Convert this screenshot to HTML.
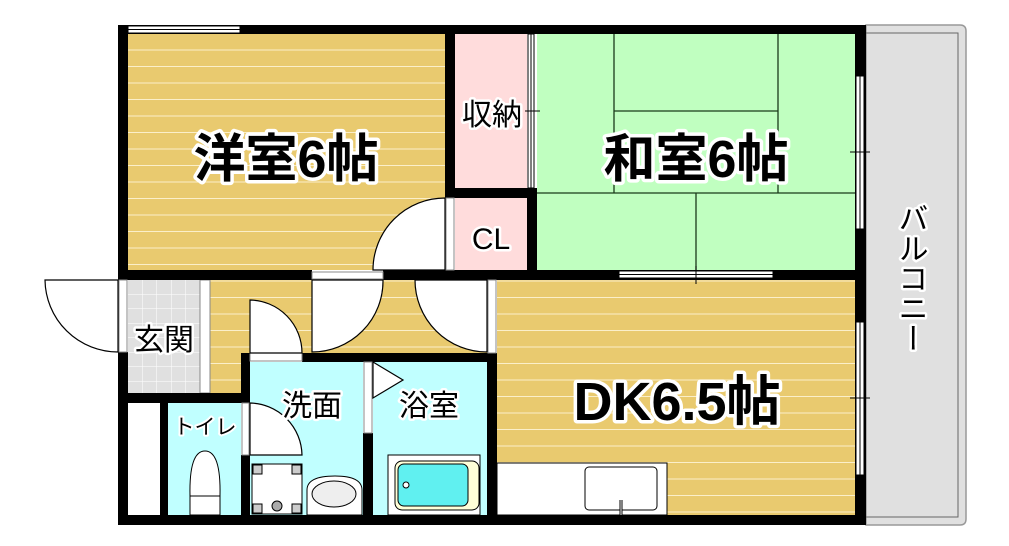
<!DOCTYPE html>
<html><head><meta charset="utf-8"><style>
html,body{margin:0;padding:0;background:#fff;}
svg{display:block;}
.t{font-family:"Liberation Sans","Noto Sans CJK JP",sans-serif;fill:#000;paint-order:stroke;stroke:#fff;stroke-linejoin:round;}
</style></head><body>
<svg width="1009" height="546" viewBox="0 0 1009 546" xmlns="http://www.w3.org/2000/svg">
<defs>
<pattern id="wood" width="20" height="16.5" patternUnits="userSpaceOnUse" y="34">
<rect width="20" height="16.5" fill="#e9ca6f"/>
<rect y="15.5" width="20" height="1.2" fill="#fbefc9"/>
</pattern>
<pattern id="tile" width="14.5" height="14.5" patternUnits="userSpaceOnUse" x="128" y="280">
<rect width="14.5" height="14.5" fill="#e0e0e0"/>
<path d="M14.5 0V14.5M0 14.5H14.5" stroke="#fff" stroke-width="1"/>
</pattern>
</defs>
<path d="M866 25H960Q966 25 966 31V519Q966 525 960 525H866Z" fill="#e0e0e0" stroke="#999" stroke-width="1.5"/>
<path d="M866 33H958V517H866" fill="none" stroke="#666" stroke-width="1"/>
<rect x="128" y="34" width="317" height="236" fill="url(#wood)"/>
<rect x="455" y="34" width="72" height="154" fill="#ffdcdc"/>
<rect x="455" y="198" width="72" height="72" fill="#ffdcdc"/>
<rect x="537" y="34" width="318" height="236" fill="#c0ffc0"/>
<g stroke="#1a3a1a" stroke-width="1.3" fill="none">
<path d="M614 34V193M778 34V193M614 111H778M537 193H855M696 193V270"/>
</g>
<rect x="210" y="280" width="277" height="73" fill="url(#wood)"/>
<rect x="210" y="353" width="31" height="40" fill="url(#wood)"/>
<rect x="128" y="280" width="72" height="113" fill="url(#tile)"/>
<rect x="200" y="280" width="10" height="113" fill="#fff" stroke="#888" stroke-width="1"/>
<rect x="497" y="280" width="358" height="235" fill="url(#wood)"/>
<rect x="168" y="403" width="73" height="112" fill="#c0ffff"/>
<rect x="250" y="362" width="113" height="153" fill="#c0ffff"/>
<rect x="373" y="362" width="114" height="153" fill="#c0ffff"/>
<rect x="128" y="403" width="32" height="112" fill="#fff"/>
<g fill="#000">
<rect x="118" y="25" width="748" height="9"/>
<rect x="118" y="25" width="10" height="255"/>
<rect x="445" y="34" width="10" height="164"/>
<rect x="455" y="188" width="82" height="10"/>
<rect x="527" y="188" width="10" height="92"/>
<rect x="855" y="25" width="11" height="500"/>
<rect x="118" y="270" width="194" height="10"/>
<rect x="383" y="270" width="483" height="10"/>
<rect x="118" y="352" width="10" height="173"/>
<rect x="118" y="393" width="132" height="10"/>
<rect x="160" y="403" width="8" height="112"/>
<rect x="241" y="353" width="9" height="50"/>
<rect x="241" y="455" width="9" height="60"/>
<rect x="302" y="353" width="195" height="9"/>
<rect x="241" y="353" width="9" height="9"/>
<rect x="363" y="433" width="10" height="82"/>
<rect x="487" y="353" width="10" height="172"/>
<rect x="118" y="515" width="748" height="10"/>
</g>
<g fill="#fff" stroke="#000" stroke-width="1">
<rect x="128" y="26" width="112" height="7"/>
<path d="M128 29.5H240"/>
<rect x="619" y="271" width="154" height="7"/>
<path d="M619 274.5H773M696 266V284"/>
<rect x="856" y="76" width="8" height="153"/>
<path d="M860 76V229M850 152H870"/>
<rect x="856" y="322" width="8" height="153"/>
<path d="M860 322V475M850 398H870"/>
<rect x="528" y="34" width="6" height="154"/>
<path d="M531 34V188M525 111H540"/>
<rect x="446" y="198" width="8" height="72" stroke="#888"/>
<rect x="312" y="272" width="71" height="7" stroke="#888"/>
<rect x="250" y="353" width="52" height="8" stroke="#888"/>
<rect x="242" y="403" width="7" height="52" stroke="#888"/>
<rect x="364" y="362" width="8" height="71" stroke="#888"/>
<rect x="488" y="280" width="8" height="73" stroke="#888"/>
<rect x="119" y="280" width="8" height="72" stroke="#888"/>
</g>
<g fill="#fff" stroke="#000" stroke-width="1.2">
<path d="M445 198V270H373A72 72 0 0 1 445 198Z"/>
<path d="M312 280H383A71 71 0 0 1 312 352Z"/>
<path d="M487 280V352A72 72 0 0 1 415 280Z"/>
<path d="M118 280H45A73 73 0 0 0 118 352Z"/>
<path d="M250 300A53 53 0 0 1 302 353H250Z"/>
<path d="M250 403A53 53 0 0 1 302 455H250Z"/>
<path d="M373 362L403 380L373 398Z"/>
</g>
<g stroke="#000" stroke-width="1">
<rect x="497" y="463" width="170" height="52" fill="#fff"/>
<rect x="585" y="467" width="72" height="43" rx="4" fill="#fff"/>
<path d="M621 500V515" stroke-width="3"/>
<path d="M621 500V515" stroke="#fff" stroke-width="1"/>
<rect x="388" y="455" width="92" height="60" fill="#fff"/>
<rect x="395" y="461" width="84" height="49" rx="7" fill="#ffffd8"/>
<rect x="398" y="464" width="70" height="42" rx="6" fill="#60f0f0"/>
<circle cx="406" cy="485" r="3" fill="#fff"/>
<rect x="252" y="464" width="50" height="50" fill="#fff"/>
<g fill="#ccc"><rect x="253" y="465" width="9" height="9"/><rect x="292" y="465" width="9" height="9"/><rect x="253" y="504" width="9" height="9"/><rect x="292" y="504" width="9" height="9"/></g>
<circle cx="277" cy="506" r="5" fill="#aaa"/>
<path d="M307 515V490Q307 476 335 476Q362 476 362 490V515Z" fill="#fff"/>
<ellipse cx="334" cy="494" rx="22" ry="13" fill="#eee"/>
<path d="M190 496Q189 451 205 451Q221 451 220 496Z" fill="#fff"/>
<rect x="190" y="496" width="30" height="19" fill="#fff"/>
</g>
<g class="t" font-weight="bold">
<text x="286" y="177" font-size="52" stroke-width="7" text-anchor="middle">洋室6帖</text>
<text x="696" y="177" font-size="52" stroke-width="7" text-anchor="middle">和室6帖</text>
<text x="677" y="420" font-size="54" stroke-width="7" text-anchor="middle">DK6.5帖</text>
</g>
<g class="t">
<text x="492" y="125" font-size="30" stroke-width="5" text-anchor="middle">収納</text>
<text x="491" y="249" font-size="30" stroke-width="5" text-anchor="middle">CL</text>
<text x="164" y="350" font-size="30" stroke-width="5" text-anchor="middle">玄関</text>
<text x="312" y="416" font-size="30" stroke-width="5" text-anchor="middle">洗面</text>
<text x="429" y="416" font-size="30" stroke-width="5" text-anchor="middle">浴室</text>
<text x="205" y="434" font-size="21" stroke-width="4" text-anchor="middle">トイレ</text>
<text x="910" y="203" font-size="30" stroke-width="5" style="writing-mode:vertical-rl">バルコニー</text>
</g>
</svg>
</body></html>
